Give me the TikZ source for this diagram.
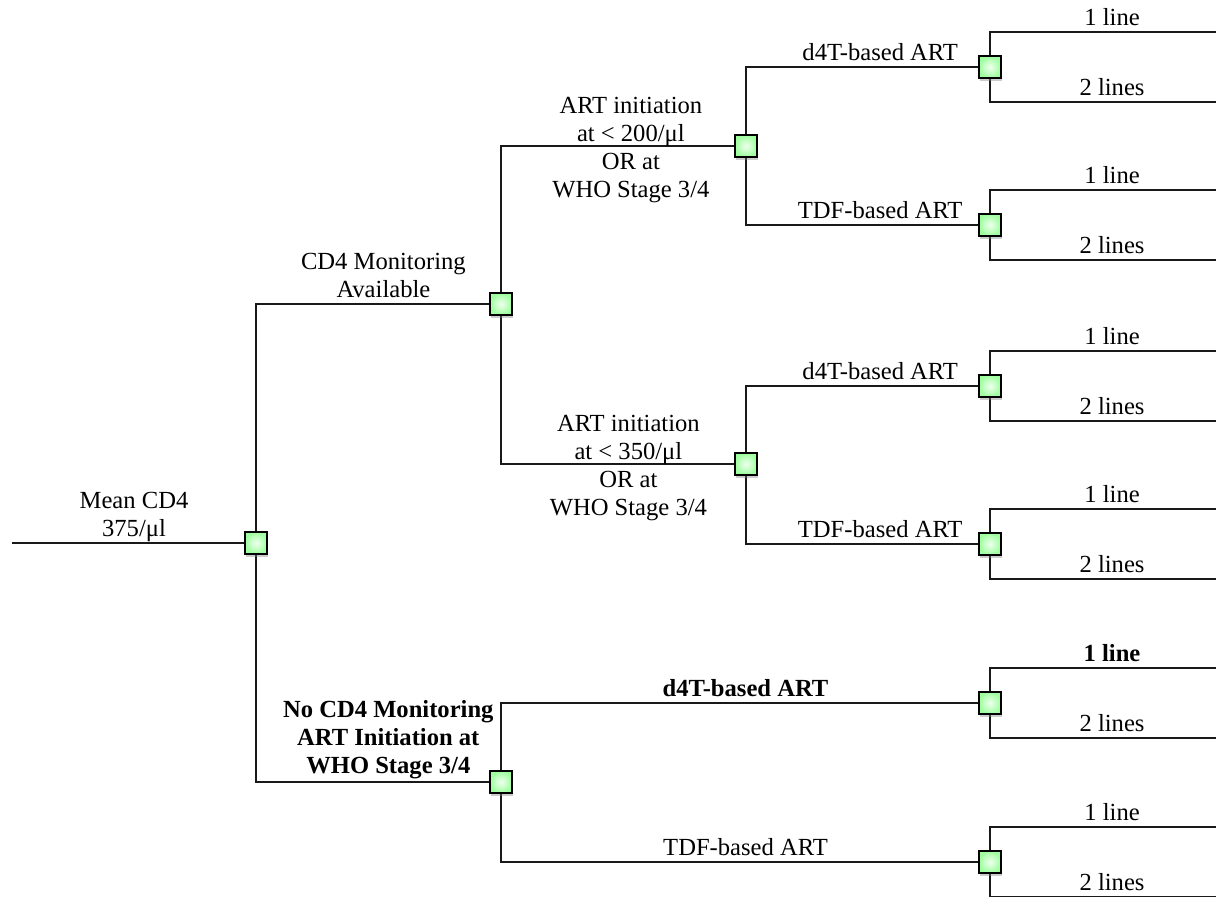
\documentclass[tikz,border=0pt]{standalone}
\usepackage{fontspec}
\setmainfont{Liberation Serif}
\usetikzlibrary{shadows, backgrounds}

\tikzset{
  dec/.style = {shape = rectangle, draw = black, line width = 1pt,
    minimum size = 11pt, inner sep = 0pt, inner color = green!6,
    outer color = green!38,
    drop shadow = {shadow xshift = 0.7pt, shadow yshift = -1.5pt, opacity = 0.4}},
  br/.style = {draw = black!90, line width = 1.1pt},
  up/.style = {above, inner sep = 0.5pt, text depth = 2pt, align = center},
  dn/.style = {below, inner sep = 3pt, align = center},
  plain/.style = {},
  bold/.style = {font = \fontsize{12.3}{14}\selectfont\bfseries}
}

\begin{document}
\begin{tikzpicture}[x = 0.5pt, y = -0.5pt, font = \fontsize{12.3}{14}\selectfont]
  \useasboundingbox (0,0) rectangle (1216,897);
  \coordinate (in) at (12,543);
  \node [dec] (d0) at (256,543) {};
  \node [dec] (cd4) at (501,304) {};
  \node [dec] (nocd4) at (501,782) {};
  \node [dec] (lo) at (746,146) {};
  \node [dec] (hi) at (746,464) {};

  \begin{scope}[on background layer]
    \draw [br] (in) -- node [up, pos = 0.5] (lmean) {Mean CD4\\375/μl} (d0.center);
    \draw [br] (d0.center) |- node [up, pos = 0.76] (lcd4)
      {CD4 Monitoring\\Available} (cd4.center);
    \draw [br] (d0.center) |- node [up, pos = 0.77, bold, yshift = 1pt] (lnocd4)
      {No CD4 Monitoring\\ART Initiation at\\WHO Stage 3/4} (nocd4.center);
    \draw [br] (cd4.center) |- node [up, pos = 0.765, yshift = -1pt] (llo) {ART initiation\\at < 200/μl}
      node [dn, pos = 0.765] (llob) {OR at\\WHO Stage 3/4} (lo.center);
    \draw [br] (cd4.center) |- node [up, pos = 0.76, yshift = -1pt] (lhi) {ART initiation\\at < 350/μl}
      node [dn, pos = 0.76] (lhib) {OR at\\WHO Stage 3/4} (hi.center);
  \end{scope}

  \foreach \src/\y/\drug/\p/\sty [count = \id] in {
    lo/67/d4T/0.775/plain, lo/225/TDF/0.775/plain,
    hi/386/d4T/0.775/plain, hi/544/TDF/0.775/plain,
    nocd4/703/d4T/0.75/bold, nocd4/862/TDF/0.75/plain} {
    \node [dec] (t\id) at (990,\y) {};
    \coordinate (t\id-a) at (1216,\y-35);
    \coordinate (t\id-b) at (1216,\y+35);
    \begin{scope}[on background layer]
      \draw [br] (\src.center) |- node [up, pos = \p, \sty] (l\id)
        {\drug-based ART} (t\id.center);
      \draw [br] (t\id.center) |- node [up, pos = 0.77, \sty] (l\id-a) {1 line} (t\id-a);
      \draw [br] (t\id.center) |- node [up, pos = 0.77] (l\id-b) {2 lines} (t\id-b);
    \end{scope}
  }
\end{tikzpicture}
\end{document}
